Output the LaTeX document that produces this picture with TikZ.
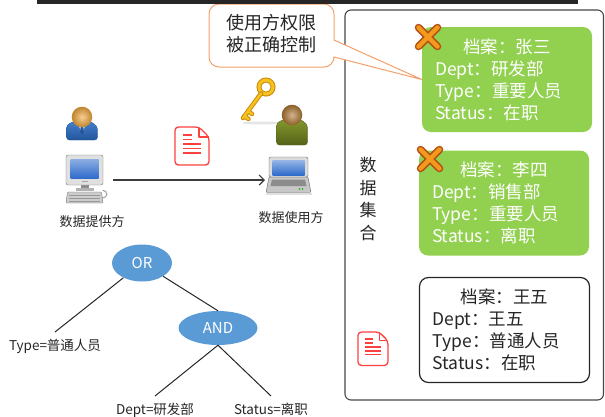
\documentclass[tikz,border=0pt]{standalone}
\usepackage{fontspec}
\setmainfont{Noto Sans CJK SC}
\usetikzlibrary{arrows.meta,shapes.geometric}
\definecolor{recgreen}{HTML}{92D050}
\definecolor{opblue}{HTML}{5B9BD5}
\definecolor{tipline}{HTML}{F4A06A}
\definecolor{docred}{HTML}{FF4040}
\definecolor{xorange}{HTML}{F39A1C}
\definecolor{xbrown}{HTML}{B24E16}
\definecolor{inkgrey}{HTML}{262626}
\definecolor{gold}{HTML}{F6C21E}
\definecolor{golddark}{HTML}{CC8A0A}
\definecolor{screenblue}{HTML}{2F6CCB}
\definecolor{suitblue}{HTML}{4680CC}
\definecolor{suitbluedk}{HTML}{22559B}
\definecolor{suitolive}{HTML}{84982C}
\definecolor{suitolivedk}{HTML}{55631A}
\definecolor{headorange}{HTML}{F0A63A}
\definecolor{headbrown}{HTML}{AE7632}
\newcommand{\fR}{\fontsize{17.5}{22}\selectfont}
\newcommand{\fC}{\fontsize{18}{22}\selectfont}
\newcommand{\fO}{\fontsize{15}{18}\selectfont}
\newcommand{\fL}{\fontsize{13.5}{16}\selectfont}
\newcommand{\fN}{\fontsize{13}{16}\selectfont}
% red sheet with folded corner, top-left corner and scale
\newcommand{\sheet}[3]{%
  \begin{scope}[shift={(#1,#2)},scale=#3]
    \draw[docred,line width=1.3pt,rounded corners=3.5pt,fill=white]
      (24,0) -- (0,0) -- (0,38) -- (34,38) -- (34,10) -- cycle;
    \draw[docred,line width=1.1pt,line join=round] (24,0.5) -- (24,10) -- (33.5,10);
    \draw[docred,line width=1.2pt] (8,8) -- (17,8) (8,12.5) -- (17,12.5)
      (8,17) -- (26,17) (8,21.5) -- (26,21.5) (8,26) -- (26,26);
  \end{scope}}
% orange cross, centre
\newcommand{\cross}[2]{%
  \draw[xbrown,line width=7.5pt,line cap=round]
    ({#1-9.5},{#2-9.5}) -- ({#1+9.5},{#2+9.5}) ({#1-9.5},{#2+9.5}) -- ({#1+9.5},{#2-9.5});
  \draw[xorange,line width=4.5pt,line cap=round]
    ({#1-9.5},{#2-9.5}) -- ({#1+9.5},{#2+9.5}) ({#1-9.5},{#2+9.5}) -- ({#1+9.5},{#2-9.5});}
% user figure: head centre, body top/bottom colour, head colour, shirt, body bottom
\newcommand{\person}[7]{%
  \begin{scope}[shift={(#1,#2)}]
    \shade[top color=#3,bottom color=#4,draw=#4,line width=0.4pt]
      (-15.5,14) .. controls (-15.5,6) and (-8,4) .. (0,4)
      .. controls (8,4) and (15.5,6) .. (15.5,14)
      [rounded corners=3pt] -- (15.5,#7) -- (-15.5,#7) -- cycle;
    #6
    \shade[inner color=#5!55!white,outer color=#5!80!black] (0,0) circle (10.3);
  \end{scope}}
% desktop computer, monitor centre
\newcommand{\desktop}[2]{%
  \begin{scope}[shift={(#1,#2)}]
    \draw[black!40,line width=0.9pt] (17,28) .. controls (24,28) and (24,21) .. (18,20);
    \fill[black!45] (-4,15) rectangle (4,19);
    \fill[black!30] (-9,18) rectangle (9,21);
    \draw[black!55,fill=black!20,rounded corners=1pt]
      (-17,22) -- (17,22) -- (18.5,33) -- (-18.5,33) -- cycle;
    \foreach \k in {25,28,31}
      \draw[black!40,line width=0.6pt] (-15.5,\k) -- (15.5,\k);
    \draw[black!55,fill=black!12,rounded corners=2pt] (-18.5,-15) rectangle (18.5,15);
    \shade[top color=screenblue!55!white,bottom color=screenblue] (-14,-11) rectangle (14,8);
    \fill[black!35] (-3,10.5) rectangle (3,12);
  \end{scope}}
% notebook, lid centre
\newcommand{\laptop}[2]{%
  \begin{scope}[shift={(#1,#2)}]
    \fill[black!12] (-23,26) rectangle (23,28);
    \draw[black!60,fill=black!22,rounded corners=1pt]
      (-19.5,10) -- (19.5,10) -- (22.5,25.5) -- (-22.5,25.5) -- cycle;
    \fill[black!45] (-16.5,12.5) -- (16.5,12.5) -- (18,19) -- (-18,19) -- cycle;
    \fill[green!70!black] (11,22) circle (0.9) (14,22) circle (0.9);
    \draw[black!60,fill=black!14,rounded corners=1.5pt] (-19.5,-10) rectangle (19.5,10);
    \shade[top color=screenblue!50!white,bottom color=screenblue] (-16,-7) rectangle (16,8);
  \end{scope}}

\begin{document}
\begin{tikzpicture}[x=1pt,y=-1pt,
    txt/.style={inner sep=0pt,outer sep=0pt},
    record/.style={rounded corners=9pt,minimum width=170pt,minimum height=105pt,
      text width=144pt,inner xsep=13pt,inner ysep=0pt,align=left,font=\fR},
    hit/.style={record,fill=recgreen,text=white},
    keep/.style={record,draw=inkgrey,line width=1.2pt,fill=white,text=inkgrey},
    op/.style={ellipse,fill=opblue,text=white,inner sep=0pt,font=\fO},
    leaf/.style={inner xsep=0pt,inner ysep=7pt,font=\fL,text=inkgrey},
    bubble/.style={draw=tipline,fill=white,line width=1pt},
    frame/.style={draw=inkgrey!85,line width=1.1pt,rounded corners=6pt},
    lnk/.style={draw=inkgrey,line width=1pt},
    arr/.style={draw=inkgrey!90,line width=1.2pt,-{Straight Barb[length=5pt,width=10pt]}}]
  \useasboundingbox (0,0) rectangle (605,416);

  % data set on the right
  \draw[frame] (345,10) rectangle (603.5,400);
  \node[txt,align=center,font=\fontsize{17}{22.6}\selectfont,text=inkgrey] (setlabel)
    at (368,199) {数\\据\\集\\合};
  \node[hit] (rec1) at (507,79.5)
    {{\centering 档案：张三\par}Dept：研发部\\Type：重要人员\\Status：在职};
  \node[hit] (rec2) at (504,203)
    {{\centering 档案：李四\par}Dept：销售部\\Type：重要人员\\Status：离职};
  \node[keep] (rec3) at (504.5,330)
    {{\centering 档案：王五\par}Dept：王五\\Type：普通人员\\Status：在职};
  \cross{428}{37}
  \cross{430}{159}
  \sheet{358}{332}{0.88}

  % provider and user
  \person{82}{117}{suitblue}{suitbluedk}{headorange}
    {\fill[white] (-4.5,6) -- (4.5,6) -- (0,16) -- cycle;
     \fill[suitbluedk] (-1.3,9) -- (1.3,9) -- (1.8,15) -- (0,17.5) -- (-1.8,15) -- cycle;}{23}
  \desktop{84.5}{170}
  \node[txt,font=\fN,text=inkgrey] (provider) at (92,222) {数据提供方};
  % key
  \fill[black!10] (262,123) ellipse (20 and 1.5);
  \draw[golddark,line width=5pt] (266,87) circle (7);
  \draw[gold,line width=3pt] (266,87) circle (7);
  \draw[golddark,line width=4.5pt,line cap=round] (261,93.5) -- (243,118)
    (248,111) -- (252,114) (244.5,116) -- (248.5,119);
  \draw[gold,line width=2.5pt,line cap=round] (261,93.5) -- (243,118)
    (248,111) -- (252,114) (244.5,116) -- (248.5,119);
  \person{292}{115}{suitolive}{suitolivedk}{headbrown}{}{30}
  \laptop{288.5}{167}
  \node[txt,font=\fN,text=inkgrey] (user) at (291,218) {数据使用方};
  \coordinate (pcout) at (113,180);
  \coordinate (lapin) at (265,180);
  \draw[arr] (pcout) -- (lapin);
  \sheet{175}{127}{1}

  % access policy tree
  \node[op,minimum width=60pt,minimum height=37pt] (opor) at (142,263) {OR};
  \node[op,minimum width=79pt,minimum height=34pt] (opand) at (218,328) {AND};
  \node[leaf,anchor=north] (leaftype) at (55,332) {Type=普通人员};
  \node[leaf,anchor=north] (leafdept) at (155,396) {Dept=研发部};
  \node[leaf,anchor=north] (leafstatus) at (271,396) {Status=离职};
  \draw[lnk] (opor) -- (leaftype.north);
  \draw[lnk] (opor) -- (opand.north);
  \draw[lnk] (opand.south) -- (leafdept.north);
  \draw[lnk] (opand.south) -- (leafstatus.north);

  % callout pointing at the first record
  \draw[bubble] (334,40) [rounded corners=10pt] -- (334,4) -- (209,4) -- (209,67)
    -- (334,67) [sharp corners] -- (334,57) -- (rec1.west) -- cycle;
  \node[txt,align=center,font=\fC,text=inkgrey] (bubbletext) at (271,34)
    {使用方权限\\被正确控制};
  \fill[inkgrey] (37,0) rectangle (578,4);
\end{tikzpicture}
\end{document}
